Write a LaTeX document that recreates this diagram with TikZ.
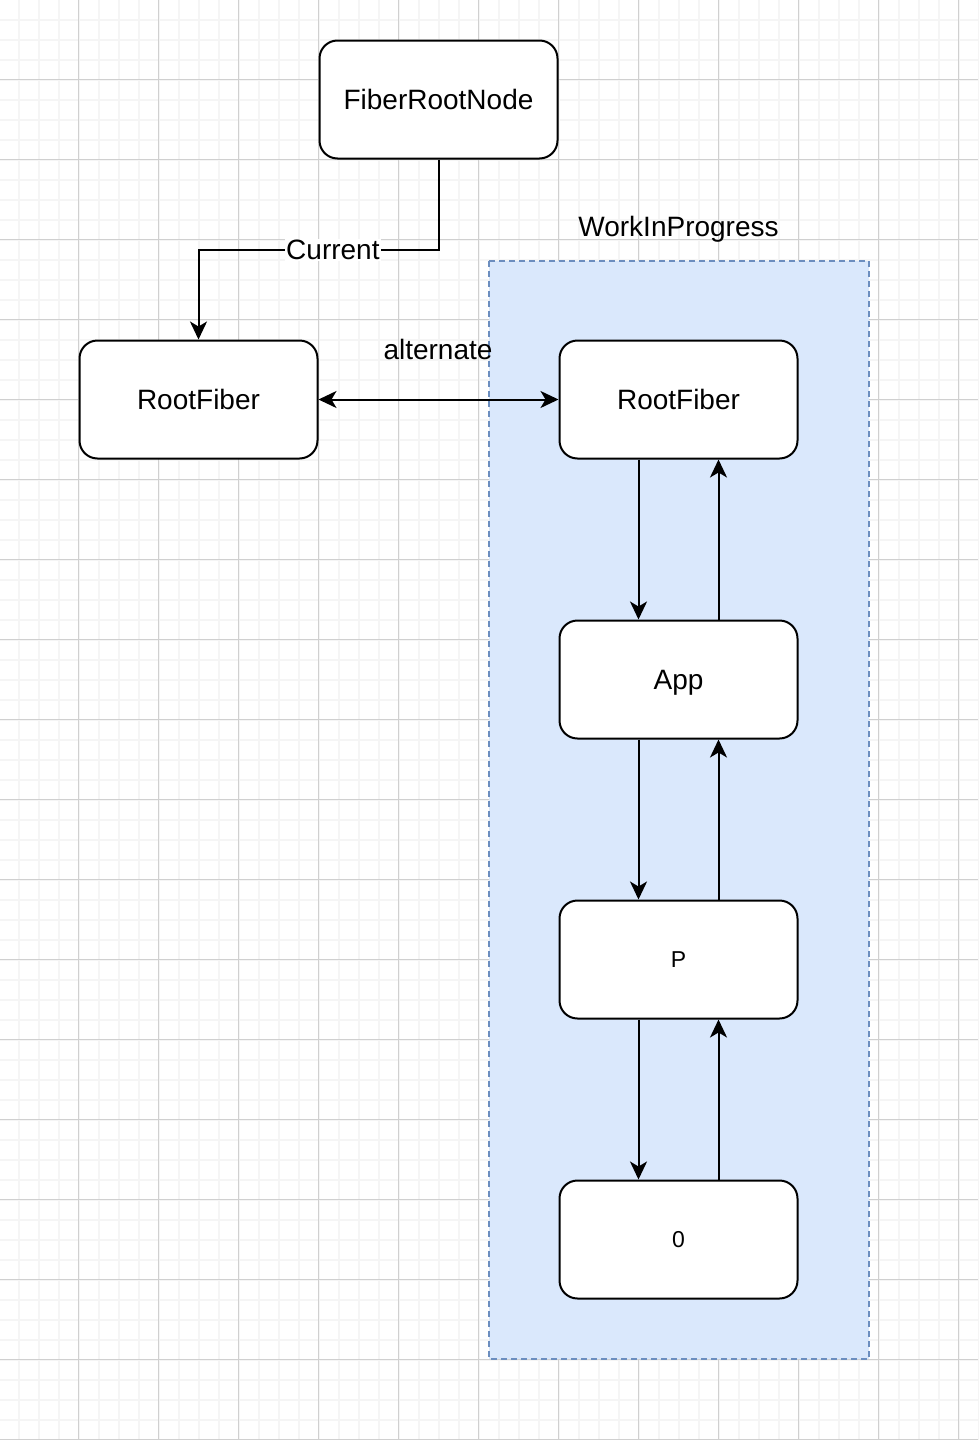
\documentclass[tikz,border=0pt]{standalone}
\usepackage{fontspec}
\setmainfont{Liberation Sans}
\usetikzlibrary{arrows.meta}
\definecolor{gridminor}{HTML}{F5F5F5}
\definecolor{gridmajor}{HTML}{D0D0D0}
\definecolor{wipfill}{HTML}{DAE8FC}
\definecolor{wipdraw}{HTML}{6C8EBF}
\tikzset{
  fiber/.style={draw=black, line width=2pt, rounded corners=18pt, fill=white,
    minimum width=238pt, minimum height=118pt, inner sep=0pt,
    font=\fontsize{28}{34}\selectfont, text height=20pt, text depth=0pt},
  smalltext/.style={font=\fontsize{23}{27}\selectfont, text height=16.5pt, text depth=0pt},
  bigtext/.style={font=\fontsize{28}{34}\selectfont, inner sep=1pt},
  tip/.tip={Stealth[length=18pt,width=17pt,inset=5pt]},
  link/.style={draw=black, line width=2pt, -tip},
  biglink/.style={draw=black, line width=2pt, tip-tip},
  minorline/.style={draw=gridminor, line width=2pt},
  majorline/.style={draw=gridmajor, line width=1pt},
  wipbox/.style={draw=wipdraw, fill=wipfill, line width=1.5pt, dash pattern=on 6pt off 4pt},
}
\begin{document}
\begin{tikzpicture}[x=1pt,y=-1pt]
\useasboundingbox (0,0) rectangle (978,1440);
\fill[white] (0,0) rectangle (978,1440);
% grid
\foreach \k in {1,...,49} {\path[minorline] ({-1.5+20*\k},0) -- ({-1.5+20*\k},1440);}
\foreach \k in {1,...,72} {\path[minorline] (0,{-0.5+20*\k}) -- (978,{-0.5+20*\k});}
\foreach \k in {0,...,11} {\path[majorline] ({78.5+80*\k},0) -- ({78.5+80*\k},1440);}
\foreach \k in {0,...,17} {\path[majorline] (0,{79.5+80*\k}) -- (978,{79.5+80*\k});}
% work in progress container
\path[wipbox] (489,261) rectangle (869,1359);
\node[bigtext] (wiplabel) at (678.5,229) {WorkInProgress};
% nodes
\node[fiber] (frn) at (438.5,99.5) {FiberRootNode};
\node[fiber] (rf1) at (198.5,399.5) {RootFiber};
\node[fiber] (rf2) at (678.5,399.5) {RootFiber};
\node[fiber] (app) at (678.5,679.5) {App};
\node[fiber, smalltext] (p) at (678.5,959.5) {P};
\node[fiber, smalltext] (zero) at (678.5,1239.5) {0};
% connectors
\coordinate (bend) at (0,250);
\draw[link] (frn.south) -- (frn.south |- bend)
  -- node[pos=0.44, fill=white, bigtext] (curlabel) {Current} (rf1.north |- bend)
  -- (rf1.north);
\draw[biglink] (rf1.east) -- (rf2.west);
\node[bigtext] (altlabel) at (438,349) {alternate};
\foreach \a/\b in {rf2/app, app/p, p/zero} {
  \draw[link] ([xshift=-40pt]\a.south) -- ([xshift=-40pt]\b.north);
  \draw[link] ([xshift=40pt]\b.north) -- ([xshift=40pt]\a.south);
}
\end{tikzpicture}
\end{document}
